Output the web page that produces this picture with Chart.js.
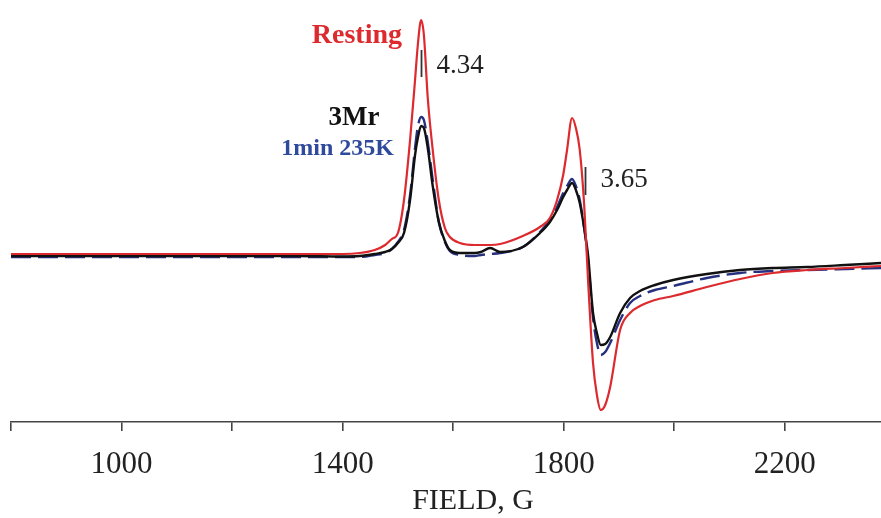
<!DOCTYPE html>
<html><head><meta charset="utf-8">
<script src="https://cdn.jsdelivr.net/npm/chart.js@4/dist/chart.umd.min.js"></script>
<style>html,body{margin:0;padding:0;background:#fff}#wrap{width:881px;height:518px}</style>
</head><body><div id="wrap"><canvas id="c" width="881" height="518"></canvas></div>
<script>
// Magnetic field (G)
const field = [800,1000,1200,1320,1400,1431,1458,1477,1489,1500,1511,1522,1531,1536,1542,1547,1554,1563,1574,1585,1594,1612,1639,1650,1667,1685,1726,1757,1775,1788,1799,1806,1815,1822,1829,1837,1844,1853,1860,1867,1875,1884,1902,1920,1938,1965,1998,2059,2119,2178,2240,2309,2374];
// EPR signal (arb. units, baseline = 0)
const resting = [2,2,2,2,2,3,6,11,17,23,56,116,176,211,236,221,158,106,56,28,19,13,11,11,11,12,20,29,38,56,81,106,138,128,106,51,-24,-107,-139,-154,-149,-131,-74,-57,-50,-44,-40,-31,-23,-17,-14,-12,-10];
const mr3 = [0,0,0,0,-0.5,0,2,4,7,13,23,56,101,118,130,128,108,70,34,15,6,3,3,4,8,4,9,23,34,46,59,66,73,66,53,28,1,-57,-77,-89,-88,-81,-57,-42,-35,-29,-24,-18,-14,-12,-11,-9,-7];
const min235 = [-1,-1,-1,-1,-1,-1,1,3,7,14,26,61,108,129,139,136,114,76,34,14,5,1,0,1,2,3,9,24,36,49,63,70,77,70,56,28,-4,-62,-87,-99,-96,-87,-64,-47,-40,-34,-30,-22,-17,-15,-14,-13,-12];
const seriesNames = ['Resting','3Mr','1min 235K'];
const tickValues = [800,1000,1200,1400,1600,1800,2000,2200];
const tickLabels = [1000,1400,1800,2200];
const gFields = [1542,1839];
const gValues = ['4.34','3.65'];
const xTitle = 'FIELD, G';

const pts = arr => field.map((f,i)=>({x:f,y:arr[i]}));
const RED='#dc2a2e', BLACK='#111111', BLUE='#26307f', BLUETXT='#2f4a9c';

const annot = {
  id:'annot',
  afterDatasetsDraw(chart){
    const c = chart.ctx, xs = chart.scales.x;
    c.save();
    c.textBaseline='alphabetic';
    c.fillStyle=RED; c.font='bold 28px "Liberation Serif"'; c.textAlign='right';
    c.fillText(seriesNames[0],402,43);
    c.fillStyle=BLACK; c.font='bold 27px "Liberation Serif"'; c.textAlign='center';
    c.fillText(seriesNames[1],354,125);
    c.fillStyle=BLUETXT; c.font='bold 24px "Liberation Serif"'; c.textAlign='right';
    c.fillText(seriesNames[2],394,155);
    const ys=[[50,77,73],[167,195,187]];
    c.strokeStyle='#333'; c.lineWidth=1.8; c.fillStyle='#222';
    c.font='27px "Liberation Serif"'; c.textAlign='left';
    gFields.forEach((f,i)=>{
      const px=Math.round(xs.getPixelForValue(f))+0.5;
      c.beginPath(); c.moveTo(px,ys[i][0]); c.lineTo(px,ys[i][1]); c.stroke();
      c.fillText(gValues[i],px+15,ys[i][2]);
    });
    c.font='30px "Liberation Serif"'; c.textAlign='center'; c.fillStyle='#222';
    c.fillText(xTitle,473,509);
    c.restore();
  }
};

new Chart(document.getElementById('c'),{
  type:'line',
  data:{datasets:[
    {label:seriesNames[0],data:pts(resting),borderColor:RED,borderWidth:2.2,pointRadius:0,pointHoverRadius:0,cubicInterpolationMode:'monotone',fill:false},
    {label:seriesNames[1],data:pts(mr3),borderColor:BLACK,borderWidth:2.4,pointRadius:0,pointHoverRadius:0,cubicInterpolationMode:'monotone',fill:false},
    {label:seriesNames[2],data:pts(min235),borderColor:BLUE,borderWidth:2.4,borderDash:[20,7],pointRadius:0,pointHoverRadius:0,cubicInterpolationMode:'monotone',fill:false}
  ]},
  options:{
    responsive:false,animation:false,
    layout:{autoPadding:false,padding:{left:11,right:0,top:0,bottom:0}},
    plugins:{legend:{display:false},tooltip:{enabled:false}},
    scales:{
      x:{type:'linear',min:800,max:2374,
        afterBuildTicks(s){s.ticks=tickValues.map(v=>({value:v}));},
        afterFit(s){s.height=96;s.paddingLeft=0;s.paddingRight=0;},
        border:{display:true,color:'#444',width:1.6},
        grid:{drawOnChartArea:false,drawTicks:true,tickLength:9,color:'#444',lineWidth:1.6},
        ticks:{autoSkip:false,maxRotation:0,padding:15,color:'#222',
          font:{family:'"Liberation Serif"',size:31},
          callback:v=>tickLabels.includes(v)?String(v):''}
      },
      y:{display:false,min:-166,max:256}
    }
  },
  plugins:[annot]
});
</script></body></html>
